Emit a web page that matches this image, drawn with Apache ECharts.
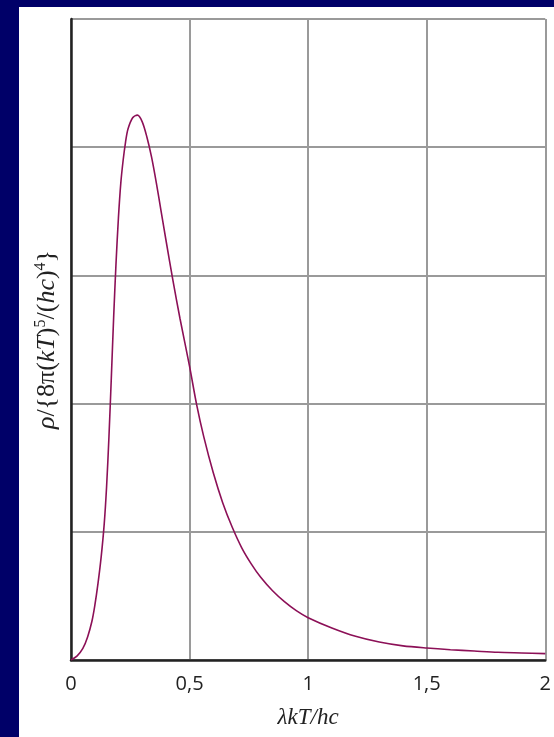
<!DOCTYPE html>
<html>
<head>
<meta charset="utf-8">
<script src="https://cdn.jsdelivr.net/npm/echarts@6/dist/echarts.min.js"></script>
<style>
html,body{margin:0;padding:0;width:554px;height:737px;background:#000068;overflow:hidden;}
#chart{position:absolute;left:19px;top:7px;width:535px;height:730px;background:#fff;}
</style>
</head>
<body>
<div id="chart"></div>
<script>
// x = λkT/hc, y = ρ/{8π(kT)^5/(hc)^4} (grid units)
const xValues = [0, 0.025, 0.05, 0.07, 0.088, 0.10, 0.114, 0.127, 0.14, 0.15, 0.16, 0.17, 0.18, 0.19, 0.20, 0.21, 0.22, 0.23, 0.24, 0.26, 0.28, 0.30, 0.32, 0.34, 0.36, 0.38, 0.40, 0.43, 0.46, 0.50, 0.53, 0.56, 0.60, 0.64, 0.68, 0.72, 0.76, 0.80, 0.85, 0.90, 0.95, 1.0, 1.1, 1.2, 1.3, 1.4, 1.5, 1.6, 1.7, 1.8, 1.9, 2.0];
const yValues = [0, 0.03, 0.09, 0.18, 0.30, 0.42, 0.60, 0.80, 1.06, 1.35, 1.74, 2.20, 2.68, 3.10, 3.45, 3.72, 3.90, 4.04, 4.14, 4.23, 4.25, 4.20, 4.08, 3.92, 3.72, 3.50, 3.28, 2.96, 2.66, 2.29, 1.99, 1.74, 1.46, 1.225, 1.035, 0.875, 0.75, 0.645, 0.54, 0.455, 0.385, 0.33, 0.25, 0.185, 0.14, 0.11, 0.093, 0.08, 0.07, 0.06, 0.055, 0.05];
const xTicks = [0, 0.5, 1, 1.5, 2];
const xTickLabels = ['0', '0,5', '1', '1,5', '2'];

const chart = echarts.init(document.getElementById('chart'));
const serif = '"Liberation Serif", "DejaVu Serif", serif';
chart.setOption({
  animation: false,
  grid: {left: 52, top: 12, right: 8, bottom: 77, containLabel: false},
  xAxis: {
    type: 'value', min: 0, max: 2, interval: 0.5,
    name: 'λkT/hc', nameLocation: 'middle', nameGap: 46,
    nameTextStyle: {fontFamily: serif, fontStyle: 'italic', fontSize: 23, color: '#222'},
    axisLine: {show: true, onZero: false, lineStyle: {color: '#222', width: 2.5}},
    axisTick: {show: false},
    axisLabel: {
      margin: 14, fontSize: 20, color: '#222', fontFamily: '"Open Sans", "Noto Sans", sans-serif',
      formatter: v => { const i = xTicks.indexOf(v); return i >= 0 ? xTickLabels[i] : ''; }
    },
    splitLine: {show: true, lineStyle: {color: '#9a9a9a', width: 2}}
  },
  yAxis: {
    type: 'value', min: 0, max: 5, interval: 1,
    name: '{i|ρ}{r|/{8π(}{i|kT}{r|)}{s|5}{r|/(}{i|hc}{r|)}{s|4}{r|\u007d}',
    nameLocation: 'middle', nameGap: 9, nameRotate: 90,
    nameTextStyle: {
      fontFamily: serif, fontSize: 26, color: '#222', verticalAlign: 'bottom',
      rich: {
        i: {fontFamily: serif, fontStyle: 'italic', fontSize: 26, lineHeight: 29, color: '#222'},
        r: {fontFamily: serif, fontSize: 26, lineHeight: 29, color: '#222'},
        s: {fontFamily: serif, fontSize: 16, lineHeight: 16, verticalAlign: 'top', color: '#222'}
      }
    },
    axisLine: {show: true, onZero: false, lineStyle: {color: '#222', width: 2.5}},
    axisTick: {show: false},
    axisLabel: {show: false},
    splitLine: {show: true, lineStyle: {color: '#9a9a9a', width: 2}}
  },
  series: [{
    type: 'line',
    data: xValues.map((x, i) => [x, yValues[i]]),
    smooth: 0.3,
    showSymbol: false,
    lineStyle: {color: '#8c1057', width: 1.6},
    z: 5
  }]
});
</script>
</body>
</html>
